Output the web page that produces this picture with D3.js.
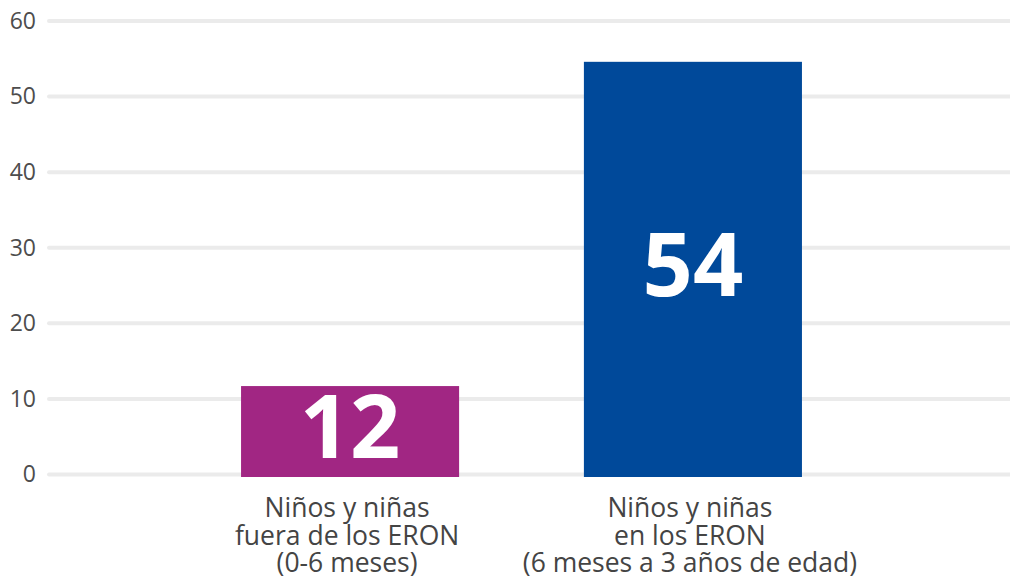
<!DOCTYPE html>
<html>
<head>
<meta charset="utf-8">
<script src="https://cdn.jsdelivr.net/npm/d3@7"></script>
<style>
  body { margin: 0; background: #fff; }
  text { font-family: "Open Sans", sans-serif; }
</style>
</head>
<body>
<div id="chart"></div>
<script>
// categories, one line per entry
var categories = ["fuera", "dentro"];
var categoryLines = [
  ["Niños y niñas", "fuera de los ERON", "(0-6 meses)"],
  ["Niños y niñas", "en los ERON", "(6 meses a 3 años de edad)"]
];
var values = [11.7, 54.6];
var valueLabels = ["12", "54"];
var barColors = ["#a12683", "#00499a"];
var yTicks = [0, 10, 20, 30, 40, 50, 60];

var width = 1010, height = 581;

var svg = d3.select("#chart")
  .append("svg")
  .attr("width", width)
  .attr("height", height);

var y = d3.scaleLinear()
  .domain([0, 60])
  .range([474.5, 21]);

var x = d3.scaleBand()
  .domain(categories)
  .range([47, 996])
  .paddingInner(0.364)
  .paddingOuter(0.566);

// gridlines
svg.append("g")
  .selectAll("line")
  .data(yTicks)
  .enter()
  .append("line")
  .attr("x1", 49)
  .attr("x2", 1012)
  .attr("y1", function (d) { return y(d); })
  .attr("y2", function (d) { return y(d); })
  .attr("stroke", "#ebebeb")
  .attr("stroke-width", 4)
  .attr("stroke-linecap", "round");

// y axis labels
var yAxis = svg.append("g")
  .attr("transform", "translate(36,0)")
  .call(d3.axisLeft(y).tickValues(yTicks).tickSize(0).tickPadding(0));
yAxis.select(".domain").remove();
yAxis.selectAll("text")
  .attr("fill", "#4d4d4d")
  .style("font-size", "23px")
  .style("font-family", "Open Sans, sans-serif");

// bars
svg.append("g")
  .selectAll("rect")
  .data(values)
  .enter()
  .append("rect")
  .attr("x", function (d, i) { return x(categories[i]); })
  .attr("width", x.bandwidth())
  .attr("y", function (d) { return y(d); })
  .attr("height", function (d) { return y(0) + 2.5 - y(d); })
  .attr("fill", function (d, i) { return barColors[i]; });

// value labels inside bars
svg.append("g")
  .selectAll("text")
  .data(values)
  .enter()
  .append("text")
  .attr("x", function (d, i) { return x(categories[i]) + x.bandwidth() / 2; })
  .attr("y", function (d) { return y(d / 2) + 28; })
  .attr("text-anchor", "middle")
  .attr("fill", "#fff")
  .style("font-size", "88px")
  .style("font-weight", "bold")
  .text(function (d, i) { return valueLabels[i]; });

// category labels
var catLabel = svg.append("g")
  .selectAll("text")
  .data(categories)
  .enter()
  .append("text")
  .attr("x", function (d) { return x(d) + x.bandwidth() / 2 - 3; })
  .attr("y", 517)
  .attr("text-anchor", "middle")
  .attr("fill", "#444")
  .style("font-size", "26.5px");

catLabel.selectAll("tspan")
  .data(function (d, i) { return categoryLines[i]; })
  .enter()
  .append("tspan")
  .attr("x", function () { return d3.select(this.parentNode).attr("x"); })
  .attr("dy", function (d, i) { return i === 0 ? 0 : 27.5; })
  .text(function (d) { return d; });
</script>
</body>
</html>
